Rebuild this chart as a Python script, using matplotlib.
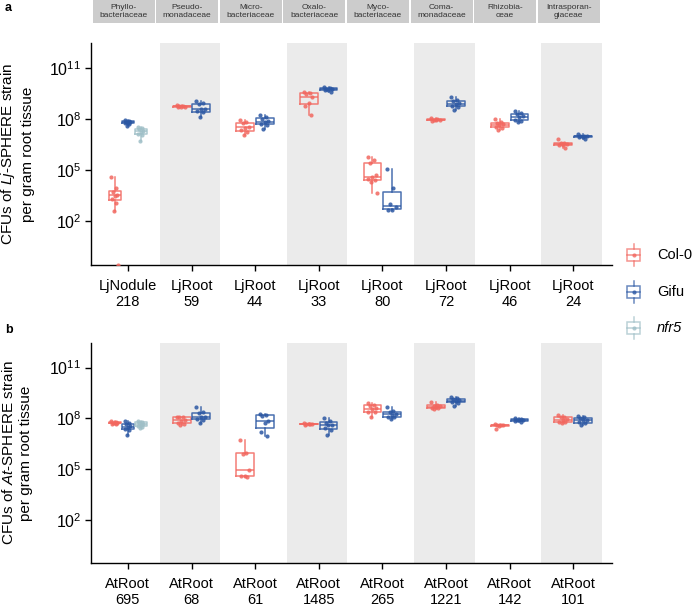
import numpy as np
import matplotlib
matplotlib.use("Agg")
import matplotlib.pyplot as plt
from matplotlib.patches import Rectangle

plt.rcParams['font.family'] = ['Liberation Sans', 'DejaVu Sans']
plt.rcParams['mathtext.fontset'] = 'custom'
plt.rcParams['mathtext.rm'] = 'Liberation Sans'
plt.rcParams['mathtext.it'] = 'Liberation Sans:italic'

NEG = -np.inf  # zero CFU, drawn at the bottom edge

families = ["Phyllo-\nbacteriaceae", "Pseudo-\nmonadaceae", "Micro-\nbacteriaceae",
            "Oxalo-\nbacteriaceae", "Myco-\nbacteriaceae", "Coma-\nmonadaceae",
            "Rhizobia-\nceae", "Intrasporan-\ngiaceae"]

lj_labels = ["LjNodule\n218", "LjRoot\n59", "LjRoot\n44", "LjRoot\n33",
             "LjRoot\n80", "LjRoot\n72", "LjRoot\n46", "LjRoot\n24"]
at_labels = ["AtRoot\n695", "AtRoot\n68", "AtRoot\n61", "AtRoot\n1485",
             "AtRoot\n265", "AtRoot\n1221", "AtRoot\n142", "AtRoot\n101"]

# log10 CFU per gram root tissue
lj_col0 = [
    [4.6, 3.95, 3.75, 3.55, 3.5, 3.3, 3.1, 2.6, NEG],
    [8.8, 8.76, 8.74, 8.73, 8.71, 8.68],
    [7.96, 7.85, 7.75, 7.55, 7.5, 7.35, 7.25, 7.08],
    [9.58, 9.55, 9.45, 9.3, 8.95, 8.75, 8.25],
    [5.78, 5.6, 5.4, 4.74, 4.6, 4.5, 4.4, 4.3, 3.67],
    [8.05, 8.0, 7.97, 7.95, 7.93, 7.9],
    [8.0, 7.82, 7.75, 7.68, 7.65, 7.55, 7.5, 7.33],
    [6.83, 6.62, 6.58, 6.52, 6.5, 6.45, 6.3],
]
lj_gifu = [
    [7.95, 7.9, 7.85, 7.82, 7.78, 7.75, 7.7, 7.6],
    [9.03, 8.92, 8.85, 8.6, 8.56, 8.45, 8.4, 8.12],
    [8.25, 8.1, 8.02, 7.86, 7.82, 7.7, 7.65, 7.43],
    [9.9, 9.82, 9.78, 9.75, 9.72, 9.68, 9.58],
    [5.09, 3.95, 3.0, 2.85, 2.7, 2.66],
    [9.29, 9.12, 9.05, 8.92, 8.88, 8.75, 8.68, 8.5],
    [8.44, 8.35, 8.28, 8.15, 8.1, 7.95, 7.9, 7.8],
    [7.1, 7.02, 7.0, 6.98, 6.96, 6.93, 6.85],
]
lj_nfr5 = [7.51, 7.48, 7.42, 7.3, 7.25, 7.12, 7.05, 6.69]

at_col0 = [
    [7.82, 7.78, 7.75, 7.74, 7.72, 7.68, 7.65],
    [8.1, 8.08, 8.05, 7.9, 7.86, 7.72, 7.68, 7.59],
    [6.7, 5.95, 5.9, 4.95, 4.6, 4.58, 4.55],
    [7.7, 7.68, 7.66, 7.65, 7.64, 7.62],
    [8.88, 8.8, 8.75, 8.6, 8.55, 8.4, 8.35, 8.1],
    [8.96, 8.8, 8.75, 8.7, 8.66, 8.62, 8.58, 8.55],
    [7.68, 7.63, 7.6, 7.58, 7.56, 7.39],
    [8.18, 8.1, 8.05, 7.95, 7.9, 7.8, 7.77, 7.72],
]
at_gifu = [
    [7.84, 7.72, 7.65, 7.52, 7.48, 7.38, 7.33, 7.01],
    [8.67, 8.38, 8.3, 8.1, 8.06, 7.96, 7.92, 7.7],
    [8.24, 8.2, 8.15, 7.84, 7.7, 7.2, 6.96],
    [8.04, 7.85, 7.75, 7.62, 7.58, 7.4, 7.3, 7.01],
    [8.67, 8.45, 8.35, 8.25, 8.2, 8.1, 8.06, 7.98],
    [9.26, 9.2, 9.15, 9.07, 9.03, 8.95, 8.9, 8.73],
    [8.0, 7.95, 7.92, 7.9, 7.88, 7.85, 7.8],
    [8.14, 8.06, 8.02, 7.92, 7.88, 7.76, 7.72, 7.6],
]
at_nfr5 = [7.85, 7.8, 7.75, 7.67, 7.63, 7.55, 7.5, 7.45]

genotypes = ["Col-0", "Gifu", "nfr5"]
colors = {"Col-0": "#F2675F", "Gifu": "#2B57A3", "nfr5": "#9FBFC7"}

YLIM = (-0.55, 12.45)
XLIM = (0.42, 8.61)

fig = plt.figure(figsize=(6.96, 6.06), dpi=100)


def draw_panel(ax, col0, gifu, nfr5, labels, species):
    pos = np.arange(1, len(labels) + 1)
    for p in pos[1::2]:
        ax.axvspan(p - 0.5, p + 0.45, color="#EBEBEB", lw=0, zorder=0)
    for i, p in enumerate(pos):
        groups = [("Col-0", col0[i]), ("Gifu", gifu[i])]
        if i == 0:
            groups.append(("nfr5", nfr5))
        n = len(groups)
        dw = 0.62
        bw = dw / n * 0.9
        for k, (g, vals) in enumerate(groups):
            x = p - dw / 2 + dw / n * (k + 0.5)
            c = colors[g]
            v = np.array(vals, dtype=float)
            fin = v[np.isfinite(v)]
            ax.boxplot([fin], positions=[x], widths=bw, showfliers=False,
                       showcaps=False, manage_ticks=False,
                       boxprops=dict(color=c, lw=1.1, alpha=0.85),
                       whiskerprops=dict(color=c, lw=1.1, alpha=0.85),
                       medianprops=dict(color=c, lw=1.1, alpha=0.85))
            jit = (((np.arange(len(v)) * 0.618) % 1) - 0.5) * bw * 0.55
            yv = np.where(np.isfinite(v), v, YLIM[0])
            ax.scatter(x + jit, yv, s=9, color=c, alpha=0.85, lw=0, zorder=3)
    ax.set_xlim(*XLIM)
    ax.set_ylim(*YLIM)
    ax.set_xticks(pos)
    ax.set_xticklabels(labels, fontsize=10.5, linespacing=1.2)
    ax.set_yticks([2, 5, 8, 11])
    ax.set_yticklabels([r"$10^{%d}$" % t for t in [2, 5, 8, 11]], fontsize=11.5)
    ax.tick_params(axis="both", length=4, width=1, color="black")
    ax.tick_params(axis="x", pad=6)
    ax.tick_params(axis="y", pad=3)
    for s in ["top", "right"]:
        ax.spines[s].set_visible(False)
    for s in ["left", "bottom"]:
        ax.spines[s].set_linewidth(1)
    bb = ax.get_position()
    fig.text(17 / 696, bb.y0 + bb.height / 2,
             r"CFUs of $\mathit{%s}$-SPHERE strain" % species + "\nper gram root tissue",
             rotation=90, ha="center", va="center", fontsize=11, linespacing=1.3)
    return pos


ax_a = fig.add_axes([91 / 696, 1 - 265 / 606, 521 / 696, 222 / 606])
pos = draw_panel(ax_a, lj_col0, lj_gifu, lj_nfr5, lj_labels, "Lj")
ax_b = fig.add_axes([91 / 696, 1 - 563 / 606, 521 / 696, 220 / 606])
draw_panel(ax_b, at_col0, at_gifu, at_nfr5, at_labels, "At")

# family strips
ax_s = fig.add_axes([91 / 696, 1 - 23 / 606, 521 / 696, 23 / 606])
ax_s.set_xlim(*XLIM)
ax_s.set_ylim(0, 1)
ax_s.axis("off")
for p, fam in zip(pos, families):
    ax_s.add_patch(Rectangle((p - 0.555, 0), 0.975, 1, color="#CCCCCC", lw=0))
    ax_s.text(p - 0.07, 0.5, fam, ha="center", va="center", fontsize=6,
              color="#333333", linespacing=1.2)

fig.text(5 / 696, 1 - 8 / 606, "a", fontsize=9, fontweight="bold", va="center")
fig.text(5 / 696, 1 - 330 / 606, "b", fontsize=9, fontweight="bold", va="center")

# legend drawn in pixel coordinates
lg = fig.add_axes([0, 0, 1, 1], facecolor="none")
lg.set_xlim(0, 696)
lg.set_ylim(606, 0)
lg.axis("off")
for g, y in zip(genotypes, [255, 292, 328]):
    c = colors[g]
    lg.add_patch(Rectangle((627, y - 6), 13, 12, fill=False, ec=c, lw=1.1, alpha=0.7))
    lg.plot([633.5, 633.5], [y - 11, y - 6], color=c, lw=1.1, alpha=0.7)
    lg.plot([633.5, 633.5], [y + 6, y + 11], color=c, lw=1.1, alpha=0.7)
    lg.plot([627, 640], [y, y], color=c, lw=1.1, alpha=0.7)
    lg.scatter([633.5], [y], s=9, color=c, lw=0, alpha=0.8)
    lg.text(657, y, g, fontsize=10.5, va="center", ha="left",
            style="italic" if g == "nfr5" else "normal")

fig.savefig("out.png", dpi=100)
